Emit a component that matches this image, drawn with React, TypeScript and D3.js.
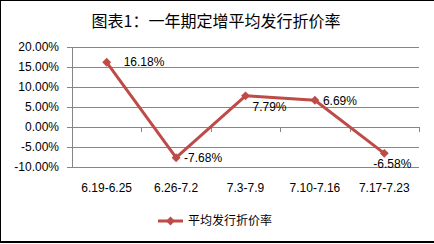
import React from "react";
import * as d3 from "d3";

const categories = ["6.19-6.25", "6.26-7.2", "7.3-7.9", "7.10-7.16", "7.17-7.23"];
const discountRates = [16.18, -7.68, 7.79, 6.69, -6.58];
const yTicks = [20, 15, 10, 5, 0, -5, -10];
const seriesName = "平均发行折价率";
const title = "图表1：一年期定增平均发行折价率";

// label offsets (dx, dy) from each point, start-anchored
const labelOffsets: [number, number][] = [
  [17, 4],
  [8, 4],
  [7, 15],
  [8, 5],
  [-11, 15],
];

const W = 434;
const H = 244;
const plot = { left: 72, right: 419, top: 47, bottom: 167 };
const lineColor = "#BE4B48";
const gridColor = "#868686";
const font = "'Liberation Sans', Arial, 'Noto Sans CJK SC', sans-serif";

export default function App() {
  const x = d3
    .scaleBand<string>()
    .domain(categories)
    .range([plot.left, plot.right])
    .paddingInner(0)
    .paddingOuter(0);
  const y = d3.scaleLinear().domain([-10, 20]).range([plot.bottom, plot.top]);

  const pts = discountRates.map((v, i) => [x(categories[i])! + x.bandwidth() / 2, y(v)] as [number, number]);
  const line = d3.line()(pts) || "";
  const diamond = d3.symbol().type(d3.symbolDiamond2).size(50)() || "";
  const bounds = [...categories.map((c) => x(c)!), plot.right];

  return (
    <svg
      width={W}
      height={H}
      style={{ position: "absolute", left: 0, top: 0, background: "#fff" }}
      fontFamily={font}
    >
      <rect x={0} y={0} width={W} height={H} fill="#fff" />
      <line x1={0} x2={W} y1={0.5} y2={0.5} stroke="#000" />
      <line x1={0.5} x2={0.5} y1={0} y2={242} stroke="#000" />
      <line x1={0} x2={W} y1={242} y2={242} stroke="#000" strokeWidth={2} />

      <text x={216} y={27} textAnchor="middle" fontSize={16} fill="#000" fontFamily="'Noto Sans CJK SC', sans-serif">
        {title}
      </text>

      {yTicks.map((t) => (
        <g key={t}>
          <line x1={plot.left - 5} x2={plot.right} y1={Math.round(y(t)) + 0.5} y2={Math.round(y(t)) + 0.5} stroke={gridColor} />
          <text x={plot.left - 13} y={y(t) + 4} textAnchor="end" fontSize={12} fill="#000">
            {t.toFixed(2)}%
          </text>
        </g>
      ))}
      <line x1={plot.left + 0.5} x2={plot.left + 0.5} y1={plot.top} y2={plot.bottom} stroke={gridColor} />
      {bounds.map((b, i) => (
        <line key={i} x1={Math.round(b) + 0.5} x2={Math.round(b) + 0.5} y1={y(0)} y2={y(0) + 5} stroke={gridColor} />
      ))}

      {categories.map((c) => (
        <text key={c} x={x(c)! + x.bandwidth() / 2} y={192} textAnchor="middle" fontSize={12} fill="#000">
          {c}
        </text>
      ))}

      <path d={line} fill="none" stroke={lineColor} strokeWidth={3} strokeLinejoin="round" />
      {pts.map((p, i) => (
        <path key={i} d={diamond} transform={`translate(${p[0]},${p[1]})`} fill={lineColor} />
      ))}

      {pts.map((p, i) => (
        <text
          key={i}
          x={p[0] + labelOffsets[i][0]}
          y={p[1] + labelOffsets[i][1]}
          fontSize={12}
          fill="#000"
        >
          {`${discountRates[i].toFixed(2)}%`}
        </text>
      ))}

      <line x1={158} x2={183} y1={221} y2={221} stroke={lineColor} strokeWidth={3} />
      <path d={diamond} transform="translate(170.5,221)" fill={lineColor} />
      <text x={188} y={225} fontSize={12} fill="#000" fontFamily="'Noto Sans CJK SC', sans-serif">
        {seriesName}
      </text>
    </svg>
  );
}
